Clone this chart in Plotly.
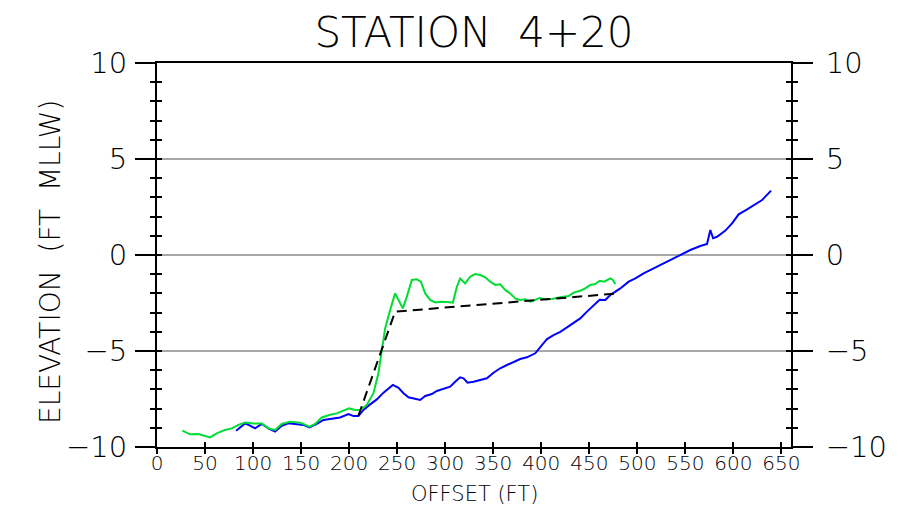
import plotly.graph_objects as go

# ---- data ----
survey_green_x = [26.4, 34.4, 43, 48.3, 55.2, 62.2, 70.8, 77.8, 84.7, 91.7, 100.3, 109, 116, 122.9,
                  129.9, 138.5, 149, 158.7, 164.6, 171.5, 180.2, 187.2, 194.1, 200, 206.3, 211.5,
                  218.4, 225.3, 230.5, 234, 237.5, 242.7, 247.9, 251.4, 255.9, 260.1, 265.3, 270.5,
                  274.7, 279.2, 284.4, 289.6, 294.8, 301.8, 308, 312.2, 315.6, 320.8, 326, 331.3,
                  336.5, 341.7, 346.9, 352.1, 357.3, 362.5, 367.7, 372.9, 378.1, 383.3, 388.5,
                  393.7, 398.2, 404.2, 411.1, 419.8, 428.5, 433.7, 440.6, 445.8, 451, 456.2,
                  460.8, 465.6, 471.9, 474.6, 477.1]
survey_green_y = [-9.15, -9.34, -9.32, -9.41, -9.5, -9.29, -9.11, -9.03, -8.85, -8.73, -8.77, -8.77,
                  -9.03, -9.11, -8.8, -8.68, -8.73, -8.94, -8.8, -8.46, -8.32, -8.25, -8.11, -7.99,
                  -8.07, -8.07, -7.81, -7.2, -6.16, -4.95, -3.82, -2.86, -2.0, -2.34, -2.78, -2.17,
                  -1.3, -1.27, -1.39, -2.0, -2.34, -2.47, -2.43, -2.45, -2.48, -1.65, -1.22, -1.48,
                  -1.13, -0.99, -1.04, -1.16, -1.39, -1.56, -1.53, -1.82, -2.0, -2.26, -2.34, -2.31,
                  -2.43, -2.34, -2.24, -2.31, -2.29, -2.2, -2.14, -1.96, -1.86, -1.74, -1.56, -1.51,
                  -1.34, -1.39, -1.22, -1.3, -1.51]

survey_blue_x = [82.3, 86.5, 91.7, 96.9, 102.1, 109, 116, 122.9, 129.9, 136.8, 145.5, 152.4, 158.7,
                 166.3, 173.3, 182, 190.6, 199.3, 204.5, 209.7, 214.9, 221.9, 228.8, 235.8, 241,
                 245.5, 251.4, 256.6, 261.8, 267, 274, 279.2, 286.1, 291.3, 298.3, 305.2, 310.4,
                 315.6, 319.1, 323.3, 329.5, 336.5, 343.4, 350.3, 357.3, 364.3, 371.2, 378.1,
                 385.1, 393.8, 400.7, 406, 412.8, 419.8, 426.8, 433.7, 440.6, 447.6, 454.5, 460.8,
                 466.7, 471.9, 476, 482.3, 491, 498, 506.6, 524, 541.4, 555.2, 565.6, 572.6, 576,
                 578.9, 583, 591.7, 598.6, 605.5, 614.3, 624.7, 629.9, 639.2]
survey_blue_y = [-9.15, -8.98, -8.77, -8.89, -9.03, -8.8, -9.03, -9.2, -8.89, -8.77, -8.8, -8.85,
                 -8.98, -8.8, -8.59, -8.54, -8.46, -8.28, -8.39, -8.39, -8.07, -7.78, -7.52, -7.17,
                 -6.96, -6.77, -6.92, -7.2, -7.41, -7.47, -7.55, -7.34, -7.24, -7.08, -6.98, -6.86,
                 -6.6, -6.37, -6.42, -6.65, -6.6, -6.51, -6.42, -6.13, -5.9, -5.73, -5.56, -5.42,
                 -5.33, -5.12, -4.69, -4.38, -4.17, -4.0, -3.77, -3.53, -3.3, -2.95, -2.65, -2.33,
                 -2.34, -2.08, -1.95, -1.74, -1.39, -1.22, -0.96, -0.52, -0.09, 0.26, 0.47, 0.57,
                 1.30, 0.87, 0.95, 1.27, 1.65, 2.12, 2.38, 2.69, 2.86, 3.35]

design_x = [209.7, 247.9, 480.5]
design_y = [-8.37, -2.95, -2.0]

x_ticks = list(range(0, 651, 50))
y_ticks = [-10, -5, 0, 5, 10]

FONT = "DejaVu Sans"
W = 300
X_RANGE = [0, 660]
Y_RANGE = [-10, 10]

fig = go.Figure()
fig.add_trace(go.Scatter(x=survey_blue_x, y=survey_blue_y, mode="lines",
                         line=dict(color="#0000ff", width=2), showlegend=False, hoverinfo="skip"))
fig.add_trace(go.Scatter(x=survey_green_x, y=survey_green_y, mode="lines",
                         line=dict(color="#00dd33", width=2), showlegend=False, hoverinfo="skip"))
fig.add_trace(go.Scatter(x=design_x, y=design_y, mode="lines",
                         line=dict(color="black", width=2, dash="10px,6px"),
                         showlegend=False, hoverinfo="skip"))
# invisible helpers so the overlay axes are drawn
for xa, ya in [("x2", "y"), ("x", "y2"), ("x", "y3"), ("x", "y4")]:
    fig.add_trace(go.Scatter(x=[X_RANGE[0]], y=[Y_RANGE[0]], xaxis=xa, yaxis=ya, mode="markers",
                             marker=dict(opacity=0), showlegend=False, hoverinfo="skip"))

common_y = dict(range=Y_RANGE, zeroline=False, color="black", fixedrange=True)

fig.update_layout(
    width=914, height=519,
    margin=dict(l=157, r=123, t=63, b=72),
    paper_bgcolor="white", plot_bgcolor="white",
    font=dict(family=FONT, color="black", weight=W),
    title=dict(text="STATION&nbsp;&nbsp;4+20", x=0.5186, xanchor="center", xref="container",
               y=1 - 32 / 519, yanchor="middle", yref="container",
               font=dict(size=42, family=FONT, color="black", weight=W)),
    xaxis=dict(range=X_RANGE, tickvals=x_ticks, ticks="outside", ticklen=5, tickwidth=1.5,
               tickcolor="black", showline=True, linewidth=2, linecolor="black", mirror=True,
               showgrid=False, zeroline=False, ticklabelstandoff=-8,
               tickfont=dict(size=20, family=FONT, weight=W), fixedrange=True),
    xaxis2=dict(range=X_RANGE, overlaying="x", anchor="y", side="bottom", tickvals=x_ticks,
                ticks="inside", ticklen=5, tickwidth=1.5, tickcolor="black",
                showticklabels=False, showline=False, showgrid=False, zeroline=False, fixedrange=True),
    yaxis=dict(**common_y, tickvals=y_ticks, ticks="outside", ticklen=20, tickwidth=2,
               tickcolor="black", showline=True, linewidth=2, linecolor="black",
               showgrid=True, gridcolor="#a8a8a8", gridwidth=2, ticklabelstandoff=2,
               minor=dict(dtick=1, tick0=0, ticks="outside", ticklen=5, tickwidth=1.5,
                          tickcolor="black", showgrid=False),
               tickfont=dict(size=29, family=FONT, weight=W)),
    yaxis2=dict(**common_y, overlaying="y", anchor="x", side="right", tickvals=y_ticks,
                ticks="outside", ticklen=20, tickwidth=2, tickcolor="black",
                showline=True, linewidth=2, linecolor="black", showgrid=False,
                ticklabelstandoff=7,
                minor=dict(dtick=1, tick0=0, ticks="outside", ticklen=5, tickwidth=1.5,
                           tickcolor="black", showgrid=False),
                tickfont=dict(size=29, family=FONT, weight=W)),
    yaxis3=dict(**common_y, overlaying="y", anchor="x", side="left", dtick=1, tick0=0,
                ticks="inside", ticklen=5, tickwidth=1.5, tickcolor="black",
                showticklabels=False, showline=False, showgrid=False),
    yaxis4=dict(**common_y, overlaying="y", anchor="x", side="right", dtick=1, tick0=0,
                ticks="inside", ticklen=5, tickwidth=1.5, tickcolor="black",
                showticklabels=False, showline=False, showgrid=False),
    annotations=[
        dict(text="OFFSET (FT)", xref="paper", yref="paper", x=0.5, y=(447 - 494) / 384,
             xanchor="center", yanchor="middle", showarrow=False,
             font=dict(size=21, family=FONT, color="black", weight=W)),
        dict(text="ELEVATION&nbsp;&nbsp;(FT&nbsp;&nbsp;MLLW)", xref="paper", yref="paper",
             x=(50 - 157) / 634, y=(447 - 262) / 384, xanchor="center", yanchor="middle",
             textangle=-90, showarrow=False, font=dict(size=28, family=FONT, color="black", weight=W)),
    ],
)

fig.write_html("out.html", config={"displayModeBar": False},
               post_script="document.body.style.margin='0';")
